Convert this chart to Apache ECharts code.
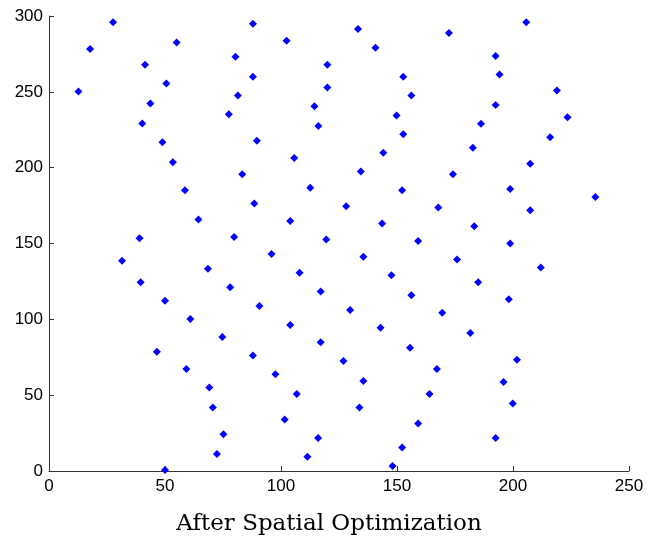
<!DOCTYPE html>
<html>
<head>
<meta charset="utf-8">
<script src="https://cdn.jsdelivr.net/npm/echarts@6/dist/echarts.min.js"></script>
<style>html,body{margin:0;padding:0;background:#fff;}#c{width:658px;height:542px;}</style>
</head>
<body>
<div id="c"></div>
<script>
const xTicks = [0, 50, 100, 150, 200, 250];
const yTicks = [0, 50, 100, 150, 200, 250, 300];
const titleText = 'After Spatial Optimization';
const xs = [
  27.6, 17.7, 55.0, 41.4, 80.4, 50.6, 12.7, 81.4, 43.7, 77.5, 40.2, 48.9, 53.4,
  87.9, 102.4, 120.0, 87.9, 120.0, 114.4, 116.1, 89.6, 105.7, 133.2, 140.7, 152.7, 156.2, 149.8, 152.7, 144.1,
  172.4, 205.7, 192.5, 194.2, 218.9, 192.5, 223.5, 186.2, 216.0, 182.7, 207.4,
  58.6, 64.4, 39.0, 79.8, 31.5, 68.5, 39.5, 78.1, 50.0, 60.9,
  83.3, 134.4, 112.6, 152.2, 88.5, 128.1, 104.0, 143.6, 119.5, 159.1, 95.9, 135.5, 108.0, 147.6, 117.1, 156.2, 90.7, 129.8,
  174.1, 198.8, 235.5, 167.8, 207.4, 183.3, 198.8, 175.9, 212.0, 185.0, 198.2, 169.5,
  74.7, 46.5, 59.2, 69.1, 70.6, 75.2, 72.4, 50.0,
  104.0, 117.1, 87.9, 142.9, 155.6, 97.6, 126.9, 135.5, 106.8, 164.0, 133.8, 101.6, 159.1, 116.0, 152.2, 111.4, 148.1,
  181.6, 201.7, 167.2, 195.9, 199.9, 192.5
];
const ys = [
  295.8, 278.3, 282.6, 267.8, 273.1, 255.5, 250.2, 247.6, 242.3, 235.3, 229.1, 216.8, 203.6,
  294.9, 283.6, 267.8, 259.9, 252.8, 240.5, 227.4, 217.8, 206.3, 291.4, 279.1, 259.9, 247.6, 234.4, 222.1, 209.9,
  288.8, 295.8, 273.7, 261.4, 250.9, 241.4, 233.3, 228.9, 220.1, 213.2, 202.6,
  185.1, 165.8, 153.5, 154.3, 138.6, 133.3, 124.5, 121.1, 112.2, 100.2,
  195.6, 197.4, 186.8, 185.1, 176.3, 174.5, 164.9, 163.2, 152.6, 151.7, 143.0, 141.2, 130.7, 129.0, 118.4, 115.8, 108.8, 106.1,
  195.6, 185.9, 180.7, 173.7, 171.9, 161.4, 150.0, 139.5, 134.2, 124.5, 113.2, 104.3,
  88.4, 78.7, 67.3, 55.0, 41.8, 24.3, 11.2, 0.7,
  96.3, 84.9, 76.1, 94.5, 81.3, 63.8, 72.6, 59.4, 50.7, 50.7, 41.8, 33.9, 31.3, 21.7, 15.5, 9.4, 3.3,
  91.0, 73.4, 67.3, 58.6, 44.5, 21.7
];
const pts = xs.map((x, i) => [x, ys[i]]);
const chart = echarts.init(document.getElementById('c'), null, {renderer: 'canvas'});
const axisCommon = {
  axisLine: {show: true, onZero: false, lineStyle: {color: '#333', width: 1}},
  axisTick: {show: true, inside: true, length: 5, lineStyle: {color: '#333'}},
  splitLine: {show: false},
  axisLabel: {color: '#000', fontFamily: 'Liberation Sans', fontSize: 17}
};
chart.setOption({
  animation: false,
  backgroundColor: '#fff',
  grid: {left: 49, right: 29, top: 16, bottom: 71, containLabel: false},
  title: {
    text: titleText, left: 'center', top: 508,
    textStyle: {fontFamily: 'DejaVu Serif', fontWeight: 'normal', fontSize: 23, color: '#000'}
  },
  xAxis: Object.assign({type: 'value', min: xTicks[0], max: xTicks[xTicks.length-1], interval: 50}, axisCommon,
    {axisLabel: Object.assign({}, axisCommon.axisLabel, {margin: 7})}),
  yAxis: Object.assign({type: 'value', min: yTicks[0], max: yTicks[yTicks.length-1], interval: 50}, axisCommon,
    {axisLabel: Object.assign({}, axisCommon.axisLabel, {margin: 6})}),
  series: [{
    type: 'scatter',
    data: pts,
    symbol: 'diamond',
    symbolSize: 8,
    clip: false,
    itemStyle: {color: '#0000ff', opacity: 1},
    z: 5
  }]
});
</script>
</body>
</html>
